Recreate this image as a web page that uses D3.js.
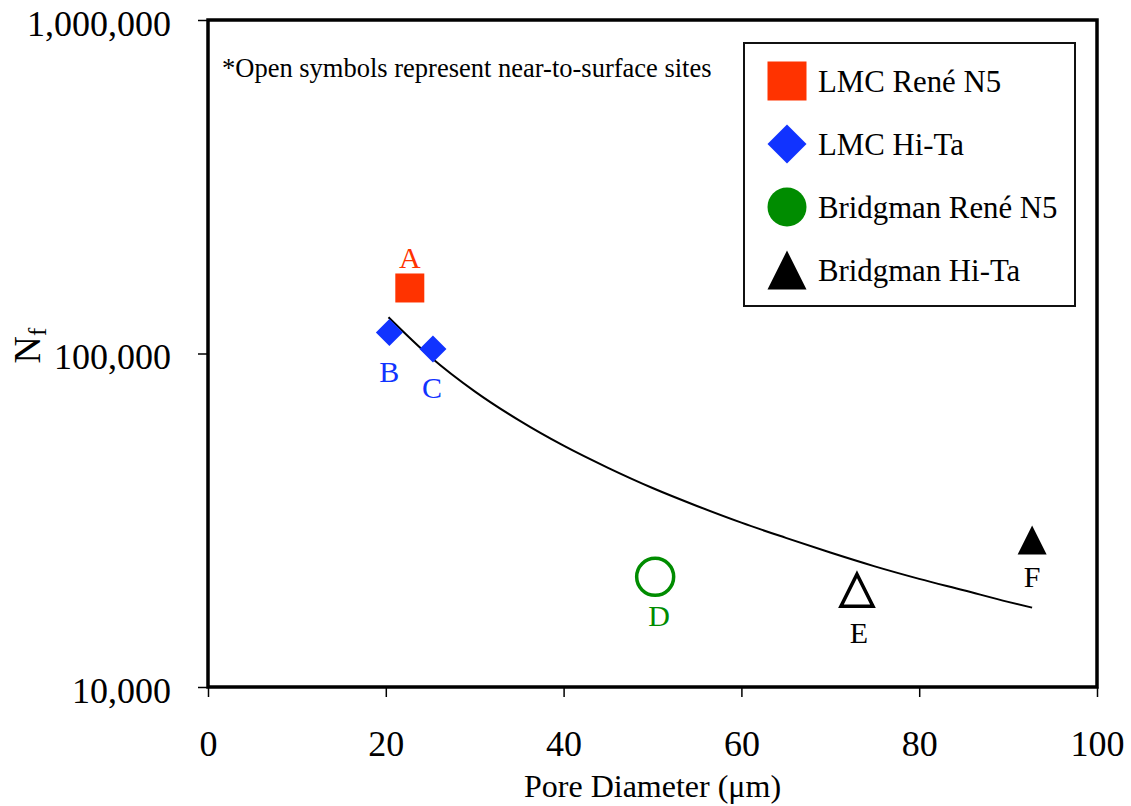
<!DOCTYPE html>
<html>
<head>
<meta charset="utf-8">
<script src="https://cdn.jsdelivr.net/npm/d3@7"></script>
<style>
  body { margin: 0; background: #fff; }
</style>
</head>
<body>
<div id="chart"></div>
<script>
// data
const pointNames = ["A", "B", "C", "D", "E", "F"];
const poreDiam  = [22.7, 20.4, 25.3, 50.3, 73.0, 92.7];
const cycles    = [157200, 115600, 103200, 21400, 19500, 27600];
const pointSeries = [0, 1, 1, 2, 3, 3];
const openPoint = [false, false, false, true, true, false];

const seriesNames  = ["LMC René N5", "LMC Hi-Ta", "Bridgman René N5", "Bridgman Hi-Ta"];
const seriesColors = ["#ff3300", "#1133ff", "#008c00", "#000000"];
const seriesShapes = ["square", "diamond", "circle", "triangle"];

// trend curve, sampled along the drawn line
const fitDiam   = [20.3, 25, 30, 35, 40, 45, 50, 55, 60, 65, 70, 75, 80, 85, 90, 92.7];
const fitCycles = [128500, 97800, 77000, 63000, 52900, 45400, 39500, 34900, 31100, 28000, 25300, 23000, 21100, 19500, 18000, 17300];

const xTicks = [0, 20, 40, 60, 80, 100];
const yTicks = [10000, 100000, 1000000];

const width = 1131, height = 806;
const margin = {left: 208, right: 34, top: 20, bottom: 119};
const serif = "Liberation Serif";

const svg = d3.select("#chart").append("svg")
  .attr("width", width)
  .attr("height", height);

const x = d3.scaleLinear().domain([0, 100]).range([margin.left, width - margin.right]);
const y = d3.scaleLog().domain([10000, 1000000]).range([height - margin.bottom, margin.top]);

// marker path by shape, centred on 0,0
function markerPath(shape, s) {
  const h = s / 2;
  if (shape == "square") return `M${-h},${-h}H${h}V${h}H${-h}Z`;
  if (shape == "diamond") return `M0,${-h}L${h},0L0,${h}L${-h},0Z`;
  if (shape == "triangle") return `M0,${-h}L${h},${h}H${-h}Z`;
  return `M${h},0A${h},${h} 0 1,1 ${-h},0A${h},${h} 0 1,1 ${h},0Z`;
}

// axes
svg.append("g")
  .attr("transform", `translate(0,${height - margin.bottom})`)
  .call(d3.axisBottom(x).tickValues(xTicks).tickSize(10).tickPadding(33))
  .call(g => g.select(".domain").remove())
  .call(g => g.selectAll("line").attr("stroke", "#000").attr("stroke-width", 1.5))
  .call(g => g.selectAll("text").attr("font-size", 36).attr("fill", "#000")
      .style("font-family", serif));

svg.append("g")
  .attr("transform", `translate(${margin.left},0)`)
  .call(d3.axisLeft(y).tickValues(yTicks).tickFormat(d3.format(",")).tickSize(10).tickPadding(27))
  .call(g => g.select(".domain").remove())
  .call(g => g.selectAll("line").attr("stroke", "#000").attr("stroke-width", 1.5))
  .call(g => g.selectAll("text").attr("font-size", 36).attr("fill", "#000")
      .attr("dy", "0.42em").style("font-family", serif));

// plot frame
svg.append("rect")
  .attr("x", x(0)).attr("y", y(1000000))
  .attr("width", x(100) - x(0)).attr("height", y(10000) - y(1000000))
  .attr("fill", "none").attr("stroke", "#000").attr("stroke-width", 3.5);

// axis titles
svg.append("text")
  .attr("x", (x(0) + x(100)) / 2).attr("y", 797)
  .attr("text-anchor", "middle").attr("font-size", 32)
  .style("font-family", serif)
  .text("Pore Diameter (μm)");

const yTitle = svg.append("text")
  .attr("transform", `translate(40,${y(100000) - 8}) rotate(-90)`)
  .attr("text-anchor", "middle").attr("font-size", 38)
  .style("font-family", serif);
yTitle.append("tspan").text("N");
yTitle.append("tspan").attr("font-size", 25).attr("dy", 6).text("f");

// note
svg.append("text")
  .attr("x", 222).attr("y", 77)
  .attr("font-size", 26.5)
  .style("font-family", serif)
  .text("*Open symbols represent near-to-surface sites");

// trend line
const line = d3.line()
  .x((d, i) => x(fitDiam[i]))
  .y((d, i) => y(fitCycles[i]))
  .curve(d3.curveMonotoneX);

svg.append("path")
  .datum(fitDiam)
  .attr("d", line)
  .attr("fill", "none")
  .attr("stroke", "#000")
  .attr("stroke-width", 2);

// points
const sizes = {square: 29, diamond: 27, circle: 34, triangle: 29};
const pts = svg.selectAll(".pt")
  .data(pointNames)
  .enter().append("g")
  .attr("class", "pt")
  .attr("transform", (d, i) => `translate(${x(poreDiam[i])},${y(cycles[i])})`);

pts.append("path")
  .attr("d", (d, i) => {
    const sh = seriesShapes[pointSeries[i]];
    return markerPath(sh, openPoint[i] ? sizes[sh] + 3 : sizes[sh]);
  })
  .attr("fill", (d, i) => openPoint[i] ? "none" : seriesColors[pointSeries[i]])
  .attr("stroke", (d, i) => openPoint[i] ? seriesColors[pointSeries[i]] : "none")
  .attr("stroke-width", 3.5)
  .attr("stroke-linejoin", "miter");

// point letters: offset above or below the marker
const labelDy = [-20, 49, 49, 49, 53, 47];
const labelDx = [0, 0, -1, 4, 2, 0];
pts.append("text")
  .attr("x", (d, i) => labelDx[i])
  .attr("y", (d, i) => labelDy[i])
  .attr("text-anchor", "middle")
  .attr("font-size", 30)
  .style("font-family", serif)
  .attr("fill", (d, i) => seriesColors[pointSeries[i]])
  .text(d => d);

// legend
const legend = svg.append("g");
legend.append("rect")
  .attr("x", 744).attr("y", 43).attr("width", 331).attr("height", 263)
  .attr("fill", "#fff").attr("stroke", "#111").attr("stroke-width", 2);

const rows = legend.selectAll(".row")
  .data(seriesNames)
  .enter().append("g")
  .attr("class", "row")
  .attr("transform", (d, i) => `translate(787,${81 + i * 63})`);

rows.append("path")
  .attr("d", (d, i) => markerPath(seriesShapes[i], 39))
  .attr("fill", (d, i) => seriesColors[i]);

rows.append("text")
  .attr("x", 31).attr("y", 11)
  .attr("font-size", 30.8)
  .style("font-family", serif)
  .text(d => d);
</script>
</body>
</html>
